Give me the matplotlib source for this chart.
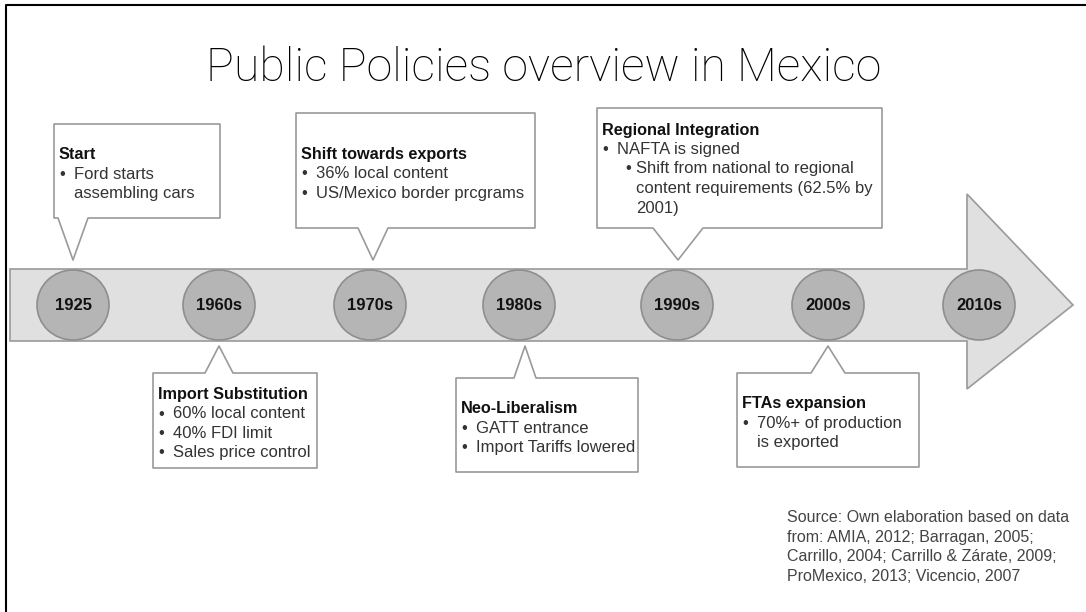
import matplotlib.pyplot as plt
from matplotlib.patches import Polygon, Ellipse

# timeline periods
periods = ['1925', '1960s', '1970s', '1980s', '1990s', '2000s', '2010s']

# callouts: which period they point to, side (up = above arrow), title and bullets
callout_period = ['1925', '1960s', '1970s', '1980s', '1990s', '2000s']
callout_side = ['up', 'down', 'up', 'down', 'up', 'down']
callout_title = ['Start', 'Import Substitution', 'Shift towards exports',
                 'Neo-Liberalism', 'Regional Integration', 'FTAs expansion']
# (indent level, has bullet, text)
callout_lines = [
    [(0, True, 'Ford starts'), (0, False, 'assembling cars')],
    [(0, True, '60% local content'), (0, True, '40% FDI limit'), (0, True, 'Sales price control')],
    [(0, True, '36% local content'), (0, True, 'US/Mexico border prcgrams')],
    [(0, True, 'GATT entrance'), (0, True, 'Import Tariffs lowered')],
    [(0, True, 'NAFTA is signed'), (1, True, 'Shift from national to regional'),
     (1, False, 'content requirements (62.5% by'), (1, False, '2001)')],
    [(0, True, '70%+ of production'), (0, False, 'is exported')],
]

source_text = ('Source: Own elaboration based on data\n'
               'from: AMIA, 2012; Barragan, 2005;\n'
               'Carrillo, 2004; Carrillo & Z\u00e1rate, 2009;\n'
               'ProMexico, 2013; Vicencio, 2007')

# layout in pixels
circle_x = [73, 219, 370, 519, 677, 828, 979]
boxes = [(54, 124, 220, 218), (153, 373, 317, 468), (296, 113, 535, 228),
         (456, 378, 638, 472), (597, 108, 882, 228), (737, 373, 919, 467)]
pointer_dx = [0, 0, 3, 6, 1, 0]
pointer_hw = [15, 14, 15, 11, 25, 17]

FONT = 'Liberation Sans'
EDGE = '#9a9a9a'

fig = plt.figure(figsize=(10.86, 6.12), dpi=100)
ax = fig.add_axes([0, 0, 1, 1])
ax.set_xlim(0, 1086)
ax.set_ylim(612, 0)
ax.axis('off')

# outer frame (left and top lines only visible)
ax.plot([6, 6, 1086], [612, 5, 5], color='black', lw=1.5)

ax.text(544, 68, 'Public Policies overview in Mexico', ha='center', va='center',
        fontsize=33.5, family=['Roboto', 'DejaVu Sans'], fontweight='light', color='black')

# big arrow
yc = 305
arrow = Polygon([(10, 269), (967, 269), (967, 194), (1073, yc), (967, 389),
                 (967, 341), (10, 341)], closed=True, facecolor='#e0e0e0',
                edgecolor=EDGE, lw=1.2, zorder=1)
ax.add_patch(arrow)

xpos = {}
for p, x in zip(periods, circle_x):
    xpos[p] = x
    ax.add_patch(Ellipse((x, yc), 72, 70, facecolor='#b5b5b5', edgecolor='#8e8e8e',
                         lw=1.2, zorder=2))
    ax.text(x, yc + 1, p, ha='center', va='center', fontsize=12, fontweight='bold',
            family=FONT, color='#111111', zorder=3)

for i, (per, side, title, lines) in enumerate(zip(callout_period, callout_side,
                                                 callout_title, callout_lines)):
    l, t, r, b = boxes[i]
    tx = xpos[per] + pointer_dx[i]
    hw = pointer_hw[i]
    if side == 'up':
        pts = [(l, t), (r, t), (r, b), (tx + hw, b), (tx, 260), (tx - hw, b), (l, b)]
    else:
        pts = [(l, t), (tx - hw, t), (tx, 346), (tx + hw, t), (r, t), (r, b), (l, b)]
    ty = t + (b - t) / 2 - (len(lines) + 1) * 19.5 / 2 + 13
    if title == 'Regional Integration':
        ty = 130
    ax.add_patch(Polygon(pts, closed=True, facecolor='white', edgecolor=EDGE,
                         lw=1.2, joinstyle='round', zorder=2))
    ax.text(l + 5, ty, title, ha='left', va='center', fontsize=11.7,
            fontweight='bold', family=FONT, color='#111111', zorder=3)
    for k, (lev, bullet, line) in enumerate(lines):
        yy = ty + 19.5 * (k + 1)
        if lev == 0:
            bx, gap = l + 5, 15
        else:
            bx, gap = l + 28, 11
        if bullet:
            ax.text(bx, yy, '\u2022', ha='left', va='center', fontsize=12,
                    family=FONT, color='#333333', zorder=3)
        ax.text(bx + gap, yy, line, ha='left', va='center',
                fontsize=12, family=FONT, color='#333333', zorder=3)

ax.text(787, 510, source_text, ha='left', va='top', fontsize=11.5, family=FONT,
        color='#444444', linespacing=1.38)

fig.savefig('out.png', dpi=100)
